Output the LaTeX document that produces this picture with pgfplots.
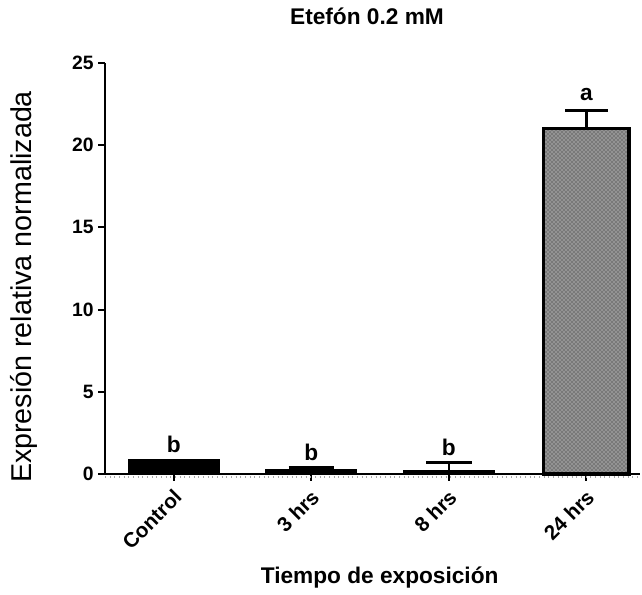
\documentclass[border=0pt]{standalone}
\usepackage{fontspec}
\setmainfont{Liberation Sans}
\usepackage{pgfplots}
\pgfplotsset{compat=1.18}
\usetikzlibrary{patterns}
\begin{document}
\begin{tikzpicture}[x=1pt,y=1pt]
\useasboundingbox (-78.75,-90) rectangle (402.75,355.5);
\begin{axis}[
  at={(0,0)}, anchor=south west,
  width=401.25pt, height=308.25pt, scale only axis,
  xmin=-0.5, xmax=3.39, ymin=0, ymax=25,
  axis x line*=bottom, axis y line*=left,
  axis line style={line width=1.6pt},
  ytick={0,5,10,15,20,25},
  xtick={0,1,2,3}, xticklabels={Control,3 hrs,8 hrs,24 hrs},
  tick style={line width=1.6pt, black},
  tick align=outside, major tick length=5pt,
  /pgf/number format/assume math mode=true,
  tick label style={font=\fontsize{14.5}{16}\selectfont\bfseries},
  xticklabel style={font=\fontsize{15.5}{18}\selectfont\bfseries, yshift=-4pt, xshift=-1pt, rotate=45, anchor=north east, inner sep=1pt},
  title={Etefón 0.2 mM},
  title style={font=\fontsize{17}{20}\selectfont\bfseries, at={(axis description cs:0.4897,1.0754)}, anchor=base},
  xlabel={Tiempo de exposición},
  xlabel style={font=\fontsize{17}{20}\selectfont\bfseries, at={(axis description cs:0.5134,-0.2652)}, anchor=base},
  ylabel={Expresión relativa normalizada},
  ylabel style={font=\fontsize{21.5}{24}\selectfont, at={(axis description cs:-0.137,0.455)}, anchor=base},
  clip=false,
]
\draw[gray!70, line width=1.4pt, dash pattern=on 0.6pt off 2.9pt] ([yshift=-2pt]rel axis cs:0,0) -- ([yshift=-2pt]rel axis cs:1,0);
\addplot[ybar, bar shift=0pt, bar width=0.66, fill=black, draw=black, line width=1pt]
  coordinates {(0,0.9)};
\addplot[ybar, bar shift=0pt, bar width=0.66, fill=black, draw=black, line width=1pt,
  error bars/.cd, y dir=plus, y explicit,
  error bar style={line width=2pt, black},
  error mark options={mark size=17pt, line width=2pt, black, rotate=90}]
  coordinates {(1,0.25) +- (0,0.15) (2,0.22) +- (0,0.5)};
\addplot[ybar, bar shift=0pt, bar width=0.62, fill=gray!85, draw=black, line width=2.5pt,
  postaction={pattern=crosshatch dots, pattern color=black!85},
  error bars/.cd, y dir=plus, y explicit,
  error bar style={line width=2pt, black},
  error mark options={mark size=16pt, line width=2pt, black, rotate=90}]
  coordinates {(3,21.0) +- (0,1.1)};
\node[font=\fontsize{17}{19}\selectfont\bfseries] at (axis cs:0,1.8) {b};
\node[font=\fontsize{17}{19}\selectfont\bfseries] at (axis cs:1,1.31) {b};
\node[font=\fontsize{17}{19}\selectfont\bfseries] at (axis cs:2,1.6) {b};
\node[font=\fontsize{17}{19}\selectfont\bfseries] at (axis cs:3,23.08) {a};
\end{axis}
\end{tikzpicture}
\end{document}
